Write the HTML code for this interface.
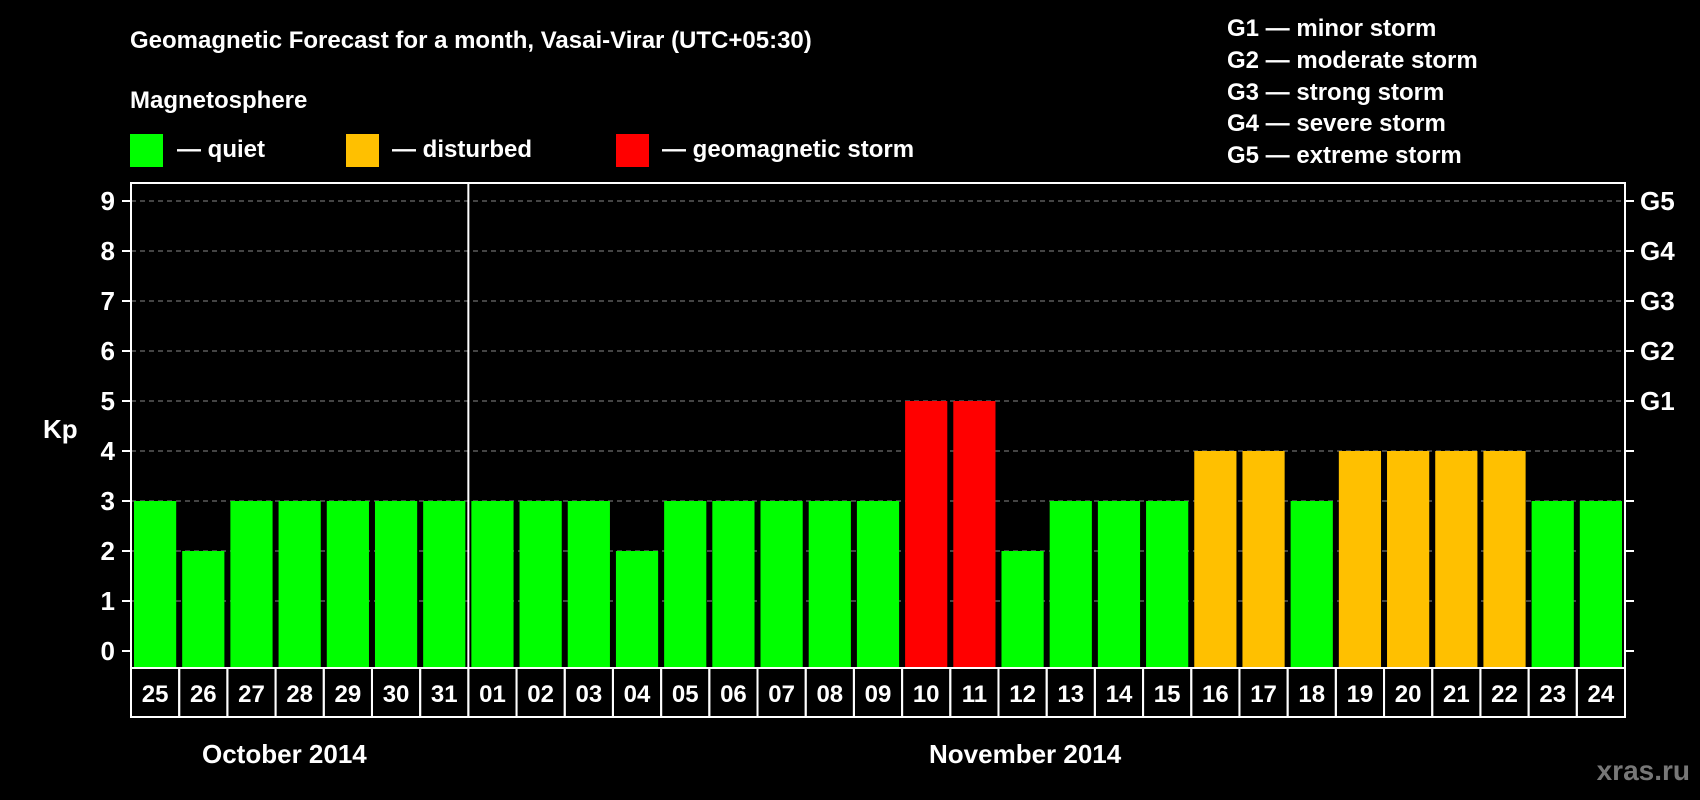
<!DOCTYPE html>
<html><head><meta charset="utf-8"><style>
html,body{margin:0;padding:0;background:#000;}
svg{display:block;font-family:"Liberation Sans",Arial,sans-serif;font-weight:bold;}
</style></head><body>
<svg id="chart" width="1700" height="800" viewBox="0 0 1700 800">
<rect width="1700" height="800" fill="#000"/>
<text x="130" y="48" fill="#fff" font-size="24">Geomagnetic Forecast for a month, Vasai-Virar (UTC+05:30)</text>
<text x="130" y="108" fill="#fff" font-size="24">Magnetosphere</text>
<g><rect x="130" y="134" width="33" height="33" fill="#00ff00"/><text x="177" y="157" fill="#fff" font-size="24">— quiet</text></g>
<g><rect x="346" y="134" width="33" height="33" fill="#ffc000"/><text x="392" y="157" fill="#fff" font-size="24">— disturbed</text></g>
<g><rect x="616" y="134" width="33" height="33" fill="#ff0000"/><text x="662" y="157" fill="#fff" font-size="24">— geomagnetic storm</text></g>
<g fill="#fff" font-size="24">
<text x="1227" y="36">G1 — minor storm</text>
<text x="1227" y="68">G2 — moderate storm</text>
<text x="1227" y="100">G3 — strong storm</text>
<text x="1227" y="131">G4 — severe storm</text>
<text x="1227" y="163">G5 — extreme storm</text>
</g>
<text x="43" y="438" fill="#fff" font-size="26">Kp</text>
<text x="202" y="763" fill="#fff" font-size="26">October 2014</text>
<text x="929" y="763" fill="#fff" font-size="26">November 2014</text>
<text x="1690" y="780" text-anchor="end" fill="#777" font-size="28">xras.ru</text>
<g id="plot"></g>
</svg>
<script>
const days = ["25","26","27","28","29","30","31","01","02","03","04","05","06","07","08","09","10","11","12","13","14","15","16","17","18","19","20","21","22","23","24"];
const kpValues = [3,2,3,3,3,3,3,3,3,3,2,3,3,3,3,3,5,5,2,3,3,3,4,4,3,4,4,4,4,3,3];
const yTicks = [0,1,2,3,4,5,6,7,8,9];
const gLabels = ["","","","","","G1","G2","G3","G4","G5"];

const NS="http://www.w3.org/2000/svg";
const plot=document.getElementById('plot');
const L=131,R=1625,T=183,B=668,LB=717;
const slot=(R-L)/days.length;
const x=i=>L+i*slot;
const y=v=>651-50*v;
function mk(tag,attrs,parent){const e=document.createElementNS(NS,tag);for(const k in attrs)e.setAttribute(k,attrs[k]);(parent||plot).appendChild(e);return e;}
function color(v){return v>=5?"#ff0000":(v>=4?"#ffc000":"#00ff00");}

yTicks.forEach((t,i)=>{
  if(t>0){const g=mk('line',{x1:L,x2:R,y1:y(t),y2:y(t),stroke:"#888","stroke-width":1,"stroke-dasharray":"5,4"});
  
  }
  const tk=mk('line',{x1:L-9,x2:L,y1:y(t),y2:y(t),stroke:"#fff","stroke-width":2});
  
  
  const tr=mk('line',{x1:R,x2:R+9,y1:y(t),y2:y(t),stroke:"#fff","stroke-width":2});
  
  
  const lb=mk('text',{x:115,y:y(t)+9,"text-anchor":"end",fill:"#fff","font-size":26});
  lb.textContent=t;
  
  
  if(gLabels[i]){const gl=mk('text',{x:R+15,y:y(t)+9,fill:"#fff","font-size":26});
  gl.textContent=gLabels[i];
  
  }
});

kpValues.forEach((v,i)=>{
  const b=mk('rect',{x:x(i)+3,y:y(v),width:slot-6,height:B-y(v),fill:color(v)});
  
  
  const c=mk('rect',{x:x(i),y:B,width:slot,height:LB-B,fill:"none",stroke:"#fff","stroke-width":2});
  
  
  const t=mk('text',{x:x(i)+slot/2,y:702,"text-anchor":"middle",fill:"#fff","font-size":24});
  t.textContent=days[i];
  
  
});

const fr=mk('rect',{x:L,y:T,width:R-L,height:B-T,fill:"none",stroke:"#fff","stroke-width":2});


const mi=days.indexOf("01");
const ml=mk('line',{x1:x(mi),x2:x(mi),y1:T,y2:B,stroke:"#fff","stroke-width":2});


</script>
</body></html>
